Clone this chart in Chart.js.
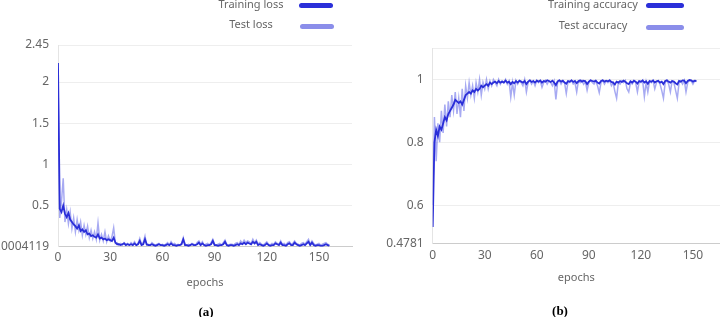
<!DOCTYPE html>
<html>
<head>
<meta charset="utf-8">
<script src="https://cdn.jsdelivr.net/npm/chart.js@4.4.1/dist/chart.umd.min.js"></script>
<style>
  body { margin: 0; background: #fff; }
  #wrap { position: relative; width: 720px; height: 317px; overflow: hidden; font-family: "Noto Sans", sans-serif; }
  .box { position: absolute; top: 0; width: 360px; height: 317px; }
  .lg-text { position: absolute; width: 120px; text-align: center; font-size: 11px; line-height: 14px; color: #666; white-space: nowrap; }
  .lg-line { position: absolute; height: 5px; border-radius: 3px; }
  .cap { position: absolute; width: 40px; text-align: center; font: bold 13px "Liberation Serif", serif; line-height: 16px; color: #000; }
</style>
</head>
<body>
<div id="wrap">
  <div class="box" style="left:0"><canvas id="lossChart" width="360" height="317"></canvas></div>
  <div class="box" style="left:360px"><canvas id="accChart" width="360" height="317"></canvas></div>

  <!-- legends: text left of the swatch, stacked -->
  <div class="lg-text" style="left:191px; top:-3px">Training loss</div>
  <div class="lg-line" style="left:299px; top:3px; width:34px; background:#2b2fd9"></div>
  <div class="lg-text" style="left:191px; top:17px">Test loss</div>
  <div class="lg-line" style="left:300px; top:24px; width:34px; background:#8b8eea"></div>

  <div class="lg-text" style="left:533px; top:-3px">Training accuracy</div>
  <div class="lg-line" style="left:646px; top:3px; width:38px; background:#2b2fd9"></div>
  <div class="lg-text" style="left:533px; top:18px">Test accuracy</div>
  <div class="lg-line" style="left:646px; top:25px; width:38px; background:#8b8eea"></div>

  <div class="cap" style="left:186px; top:304px">(a)</div>
  <div class="cap" style="left:540px; top:303px">(b)</div>
</div>

<script>
// tick values shown on the axes
const epochTicks = [0, 30, 60, 90, 120, 150];
const lossTicks = [0.0004119, 0.5, 1, 1.5, 2, 2.45];
const accTicks = [0.4781, 0.6, 0.8, 1, 1.1];

// loss per epoch
const lossTrain = [
  2.23, 0.46, 0.42, 0.50, 0.40, 0.36, 0.41, 0.33, 0.30, 0.27,
  0.25, 0.22, 0.26, 0.19, 0.21, 0.18, 0.20, 0.15, 0.16, 0.13,
  0.14, 0.12, 0.11, 0.15, 0.10, 0.11, 0.09, 0.10, 0.08, 0.09,
  0.08, 0.07, 0.11, 0.05, 0.03, 0.03, 0.02, 0.03, 0.04, 0.02,
  0.03, 0.02, 0.03, 0.02, 0.04, 0.02, 0.03, 0.07, 0.02, 0.03,
  0.09, 0.03, 0.02, 0.02, 0.03, 0.02, 0.01, 0.02, 0.03, 0.02,
  0.02, 0.01, 0.02, 0.03, 0.02, 0.04, 0.02, 0.02, 0.01, 0.02,
  0.02, 0.03, 0.09, 0.02, 0.02, 0.01, 0.02, 0.03, 0.02, 0.02,
  0.03, 0.05, 0.02, 0.04, 0.02, 0.01, 0.02, 0.02, 0.03, 0.07,
  0.02, 0.02, 0.01, 0.02, 0.02, 0.03, 0.06, 0.02, 0.01, 0.02,
  0.02, 0.01, 0.02, 0.03, 0.02, 0.04, 0.03, 0.05, 0.03, 0.05,
  0.04, 0.03, 0.06, 0.04, 0.06, 0.02, 0.03, 0.02, 0.01, 0.02,
  0.04, 0.02, 0.01, 0.02, 0.02, 0.04, 0.03, 0.02, 0.05, 0.02,
  0.02, 0.01, 0.03, 0.04, 0.02, 0.02, 0.05, 0.03, 0.02, 0.01,
  0.02, 0.03, 0.02, 0.04, 0.06, 0.02, 0.05, 0.02, 0.01, 0.02,
  0.02, 0.01, 0.01, 0.02, 0.03, 0.02, 0.01
];
const lossTest = [
  2.10, 0.35, 0.55, 0.83, 0.30, 0.45, 0.28, 0.42, 0.22, 0.35,
  0.18, 0.33, 0.20, 0.30, 0.14, 0.26, 0.15, 0.25, 0.11, 0.20,
  0.10, 0.18, 0.09, 0.29, 0.08, 0.15, 0.07, 0.18, 0.06, 0.13,
  0.07, 0.12, 0.23, 0.04, 0.05, 0.02, 0.04, 0.02, 0.05, 0.03,
  0.04, 0.02, 0.05, 0.03, 0.06, 0.02, 0.04, 0.10, 0.03, 0.05,
  0.13, 0.02, 0.03, 0.02, 0.05, 0.03, 0.02, 0.03, 0.04, 0.02,
  0.03, 0.02, 0.03, 0.05, 0.02, 0.06, 0.03, 0.04, 0.02, 0.03,
  0.02, 0.04, 0.11, 0.03, 0.02, 0.03, 0.02, 0.04, 0.03, 0.02,
  0.05, 0.07, 0.03, 0.06, 0.02, 0.03, 0.04, 0.02, 0.05, 0.09,
  0.03, 0.02, 0.03, 0.04, 0.02, 0.05, 0.08, 0.03, 0.02, 0.03,
  0.03, 0.02, 0.04, 0.05, 0.03, 0.07, 0.04, 0.08, 0.05, 0.07,
  0.06, 0.04, 0.09, 0.05, 0.08, 0.03, 0.05, 0.03, 0.02, 0.04,
  0.06, 0.03, 0.02, 0.04, 0.03, 0.06, 0.04, 0.03, 0.07, 0.03,
  0.04, 0.02, 0.05, 0.06, 0.03, 0.04, 0.07, 0.04, 0.03, 0.02,
  0.04, 0.05, 0.03, 0.06, 0.09, 0.03, 0.07, 0.04, 0.02, 0.03,
  0.04, 0.02, 0.03, 0.04, 0.05, 0.03, 0.02
];

// accuracy per epoch
const accTrain = [
  0.53, 0.80, 0.84, 0.82, 0.85, 0.84, 0.86, 0.88, 0.87, 0.89,
  0.90, 0.91, 0.92, 0.935, 0.93, 0.925, 0.93, 0.92, 0.935, 0.95,
  0.955, 0.96, 0.955, 0.965, 0.96, 0.97, 0.965, 0.97, 0.98, 0.975,
  0.98, 0.985, 0.98, 0.99, 0.985, 0.99, 0.993, 0.988, 0.995, 0.99,
  0.993, 0.99, 0.996, 0.99, 0.993, 0.985, 0.992, 0.988, 0.995, 0.99,
  0.996, 0.993, 0.99, 0.995, 0.985, 0.993, 0.997, 0.992, 0.995, 0.99,
  0.996, 0.993, 0.997, 0.99, 0.995, 0.993, 0.997, 0.995, 0.992, 0.996,
  0.99, 0.982, 0.994, 0.997, 0.993, 0.996, 0.99, 0.986, 0.995, 0.993,
  0.997, 0.992, 0.995, 0.988, 0.994, 0.997, 0.993, 0.996, 0.994, 0.985,
  0.993, 0.997, 0.995, 0.993, 0.996, 0.99, 0.987, 0.995, 0.997, 0.993,
  0.996, 0.994, 0.997, 0.992, 0.99, 0.984, 0.993, 0.99, 0.995, 0.992,
  0.996, 0.993, 0.988, 0.985, 0.994, 0.99, 0.996, 0.993, 0.987, 0.995,
  0.993, 0.997, 0.99, 0.994, 0.986, 0.995, 0.993, 0.997, 0.99, 0.994,
  0.996, 0.99, 0.993, 0.985, 0.995, 0.997, 0.993, 0.99, 0.995, 0.993,
  0.988, 0.984, 0.995, 0.993, 0.997, 0.996, 0.988, 0.995, 0.998, 0.997,
  0.993, 0.996, 0.995
];
const accTest = [
  0.60, 0.88, 0.74, 0.86, 0.80, 0.90, 0.83, 0.92, 0.85, 0.93,
  0.88, 0.95, 0.90, 0.96, 0.89, 0.94, 0.88, 0.97, 0.90, 0.98,
  0.94, 0.99, 0.95, 0.98, 0.94, 0.99, 0.96, 1.0, 0.95, 0.99,
  0.97, 1.0, 0.97, 0.995, 0.98, 1.0, 0.99, 0.98, 1.0, 0.985,
  0.995, 0.99, 1.0, 0.985, 0.995, 0.944, 0.99, 0.95, 0.997, 0.985,
  0.995, 0.99, 0.98, 1.0, 0.96, 0.99, 0.997, 0.985, 0.995, 0.98,
  0.997, 0.99, 0.995, 0.975, 0.99, 0.997, 0.985, 0.995, 0.99, 0.98,
  0.995, 0.936, 0.99, 0.997, 0.985, 0.995, 0.99, 0.955, 0.993, 0.99,
  0.997, 0.985, 0.99, 0.96, 0.995, 0.99, 0.997, 0.985, 0.993, 0.965,
  0.99, 0.997, 0.99, 0.985, 0.995, 0.98, 0.958, 0.99, 0.997, 0.985,
  0.995, 0.99, 0.997, 0.98, 0.99, 0.962, 0.94, 0.99, 0.985, 0.995,
  0.99, 0.997, 0.97, 0.96, 0.99, 0.985, 0.995, 0.99, 0.96, 0.993,
  0.99, 0.997, 0.945, 0.99, 0.96, 0.995, 0.99, 0.997, 0.97, 0.99,
  0.995, 0.985, 0.965, 0.94, 0.99, 0.997, 0.985, 0.96, 0.995, 0.99,
  0.965, 0.94, 0.99, 0.995, 0.985, 0.997, 0.96, 0.99, 0.997, 0.995,
  0.985, 0.995, 0.993
];

const trainColor = 'rgb(42, 46, 216)';
const testColor = 'rgba(95, 100, 232, 0.55)';

// turn a list of values into {x: epoch, y: value}
function toPoints(values) {
  return values.map((v, i) => ({ x: i, y: v }));
}

function makeChart(id, train, test, yTicks, xMax, area, titlePad, tickPad) {
  let ctx = document.getElementById(id).getContext('2d');
  return new Chart(ctx, {
    type: 'line',
    data: {
      datasets: [
        { label: 'train', data: toPoints(train), borderColor: trainColor, borderWidth: 1.8, pointRadius: 0, fill: false },
        { label: 'test', data: toPoints(test), borderColor: testColor, borderWidth: 1.5, pointRadius: 0, fill: false }
      ]
    },
    options: {
      responsive: false,
      animation: false,
      events: [],
      layout: { padding: { top: area.top, right: 360 - area.right, left: 0, bottom: 0 } },
      plugins: { legend: { display: false }, tooltip: { enabled: false } },
      scales: {
        x: {
          type: 'linear',
          min: 0,
          max: xMax,
          grid: { display: false, drawTicks: false },
          border: { display: true, color: '#cccccc' },
          afterBuildTicks: (scale) => { scale.ticks = epochTicks.map(v => ({ value: v })); },
          afterFit: (scale) => { scale.height = 317 - area.bottom; },
          ticks: { padding: tickPad, color: '#666', font: { family: 'Noto Sans', size: 12 } },
          title: { display: true, text: 'epochs', color: '#666', padding: { top: 0, bottom: titlePad }, font: { family: 'Noto Sans', size: 11 } }
        },
        y: {
          min: yTicks[0],
          max: yTicks[yTicks.length - 1],
          grid: { color: '#eeeeee', drawTicks: false },
          border: { display: true, color: '#e4e4e4' },
          afterBuildTicks: (scale) => { scale.ticks = yTicks.map(v => ({ value: v })); },
          afterFit: (scale) => { scale.width = area.left; },
          ticks: {
            padding: 9,
            color: '#666',
            font: { family: 'Noto Sans', size: 12 },
            callback: (v) => (v === 1.1 ? '' : String(v))
          }
        }
      }
    }
  });
}

makeChart('lossChart', lossTrain, lossTest, lossTicks, 169,
  { left: 58, right: 352, top: 45, bottom: 246.7 }, 28, 4);
makeChart('accChart', accTrain, accTest, accTicks, 165.6,
  { left: 72.7, right: 360, top: 48, bottom: 243.4 }, 33, 5);
</script>
</body>
</html>
